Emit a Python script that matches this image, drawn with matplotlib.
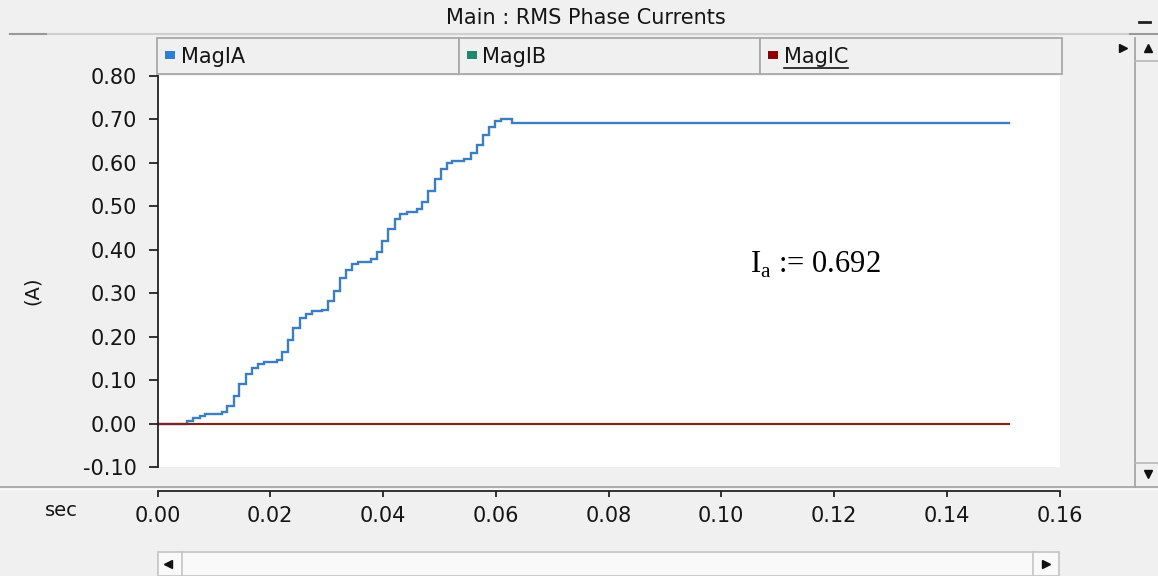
import matplotlib
matplotlib.use("Agg")
import matplotlib.pyplot as plt
from matplotlib.patches import Rectangle
import numpy as np

# ---- data -------------------------------------------------------------
title = "Main : RMS Phase Currents"
series_names = ["MagIA", "MagIB", "MagIC"]

# RMS phase A current (A), step-held samples
ia_t = [0.0, 0.0052, 0.0063, 0.0075, 0.0084, 0.0114, 0.0124, 0.0135, 0.0145,
        0.0157, 0.0167, 0.0179, 0.0189, 0.0212, 0.0221, 0.0231, 0.0241, 0.0252,
        0.0263, 0.0274, 0.0292, 0.0302, 0.0313, 0.0323, 0.0334, 0.0345, 0.0355,
        0.0378, 0.0389, 0.0399, 0.0409, 0.0421, 0.0431, 0.0442, 0.0460, 0.0470,
        0.0480, 0.0492, 0.0502, 0.0513, 0.0523, 0.0544, 0.0556, 0.0566, 0.0577,
        0.0588, 0.0598, 0.0609, 0.0628, 0.1511]
ia_v = [0.000, 0.006, 0.012, 0.017, 0.022, 0.027, 0.040, 0.063, 0.090,
        0.114, 0.127, 0.137, 0.141, 0.147, 0.164, 0.193, 0.221, 0.243,
        0.253, 0.258, 0.262, 0.281, 0.304, 0.335, 0.354, 0.368, 0.372,
        0.378, 0.395, 0.420, 0.447, 0.470, 0.483, 0.488, 0.493, 0.511,
        0.535, 0.562, 0.585, 0.599, 0.605, 0.608, 0.622, 0.641, 0.665,
        0.682, 0.697, 0.701, 0.692, 0.692]
# phases B and C stay at zero
ib_t = [0.0, 0.1511]
ib_v = [0.0, 0.0]
ic_t = [0.0, 0.1511]
ic_v = [0.0, 0.0]

ia_final = 0.692

y_ticks = [-0.10, 0.00, 0.10, 0.20, 0.30, 0.40, 0.50, 0.60, 0.70, 0.80]
x_ticks = [0.00, 0.02, 0.04, 0.06, 0.08, 0.10, 0.12, 0.14, 0.16]

# ---- styling ----------------------------------------------------------
W, H = 1158, 576
BG = "#f0f0f0"
TXT = "#151515"
line_colors = ["#3b7fc2", "#1f8a70", "#8e1c1c"]
marker_colors = ["#2b80d6", "#1f8a70", "#8b0000"]
FS = 15

plt.rcParams["font.family"] = ["DejaVu Sans"]

fig = plt.figure(figsize=(W / 100, H / 100), dpi=100, facecolor=BG)


def fx(x):
    return x / W


def fy(y):
    return 1 - y / H


# window chrome drawn in pixel coordinates
bg = fig.add_axes([0, 0, 1, 1], zorder=0)
bg.set_xlim(0, W)
bg.set_ylim(H, 0)
bg.axis("off")

bg.text(586, 18, title, ha="center", va="center", fontsize=FS, color=TXT)
bg.plot([10, 1130], [34, 34], color="#cfcfcf", lw=1.5)
bg.plot([10, 46], [34, 34], color="#9a9a9a", lw=1.5)
bg.plot([1130, W], [34, 34], color="#9a9a9a", lw=1.5)
bg.plot([1139, 1150], [22, 22], color="#202020", lw=2)

# series header boxes
box_x0 = 157
box_w = 301.5
label_texts = []
for i, (name, mc) in enumerate(zip(series_names, marker_colors)):
    x0 = box_x0 + i * box_w
    bg.add_patch(Rectangle((x0, 38), box_w, 36, facecolor=BG,
                           edgecolor="#a9a9a9", lw=1.3))
    bg.add_patch(Rectangle((x0 + 8, 50.5), 10, 8, facecolor=mc, edgecolor="none"))
    t = bg.text(x0 + 24, 57, name, ha="left", va="center", fontsize=FS, color=TXT)
    label_texts.append(t)

# vertical scrollbar on the right
bg.plot([1135, 1135], [38, 487], color="#a6a6a6", lw=1.3)
bg.plot([1135, W], [61, 61], color="#b8b8b8", lw=1.2)
bg.plot([1135, W], [463, 463], color="#b8b8b8", lw=1.2)
bg.plot([1148], [48], marker="^", color="#111111", ms=6)
bg.plot([1148], [474], marker="v", color="#111111", ms=6)
bg.plot([1123], [48], marker=">", color="#111111", ms=6)

# separator between plot panel and time axis
bg.plot([0, W], [487, 487], color="#a6a6a6", lw=1.3)
bg.plot([0, W], [488.5, 488.5], color="#fafafa", lw=1.0)

bg.text(61, 510, "sec", ha="center", va="center", fontsize=FS - 1, color=TXT)
bg.text(32, 291, "(A)", ha="center", va="center", fontsize=FS - 1,
        color=TXT, rotation=90)

# horizontal scrollbar at the bottom
bg.add_patch(Rectangle((158, 552), 901, 24, facecolor="#f9f9f9",
                       edgecolor="#c4c4c4", lw=1.2))
bg.plot([182, 182], [552, 576], color="#c4c4c4", lw=1.2)
bg.plot([1033, 1033], [552, 576], color="#c4c4c4", lw=1.2)
bg.plot([168], [564], marker="<", color="#111111", ms=6)
bg.plot([1046], [564], marker=">", color="#111111", ms=6)

# ---- plot area ----------------------------------------------------------
left_px, right_px = 157.5, 1059.5
top_px, bot_px = 76, 467
ax = fig.add_axes([fx(left_px), fy(bot_px), (right_px - left_px) / W,
                   (bot_px - top_px) / H], zorder=2)
ax.set_facecolor("white")
for s in ("top", "right", "bottom"):
    ax.spines[s].set_visible(False)
ax.spines["left"].set_color("#222222")
ax.spines["left"].set_linewidth(1.3)
ax.set_xlim(0, 0.16)
ax.set_ylim(-0.10, 0.80)
ax.set_xticks([])
ax.set_yticks(y_ticks)
ax.set_yticklabels([f"{v:.2f}" for v in y_ticks])
ax.tick_params(axis="y", direction="out", length=6.5, width=1.3,
               color="#222222", pad=8, labelsize=FS, labelcolor=TXT)

ax.plot(ia_t, ia_v, drawstyle="steps-post", color=line_colors[0], lw=1.7,
        solid_joinstyle="miter")
ax.plot(ib_t, ib_v, color=line_colors[1], lw=1.5)
ax.plot(ic_t, ic_v, color=line_colors[2], lw=1.5)

ax.text(0.1051, 0.346, r"I$_\mathregular{a}$ := " + f"{ia_final:.3f}",
        fontsize=22, family="Liberation Serif", color="black",
        ha="left", va="baseline")

# ---- time axis ------------------------------------------------------------
axx = fig.add_axes([fx(left_px), fy(491), (right_px - left_px) / W, 0.0001],
                   zorder=2)
axx.patch.set_visible(False)
for s in ("top", "right", "left"):
    axx.spines[s].set_visible(False)
axx.spines["bottom"].set_color("#222222")
axx.spines["bottom"].set_linewidth(1.3)
axx.set_xlim(0, 0.16)
axx.set_yticks([])
axx.set_xticks(x_ticks)
axx.set_xticklabels([f"{v:.2f}" for v in x_ticks])
axx.tick_params(axis="x", direction="out", length=4.5, width=1.3,
                color="#222222", pad=6, labelsize=FS, labelcolor=TXT)

# underline the last series header
fig.canvas.draw()
ext = label_texts[2].get_window_extent()
x_a = ext.x0
x_b = ext.x1
y_u = H - ext.y0 + 1
bg.plot([x_a, x_b], [y_u, y_u], color=TXT, lw=1.2)

fig.savefig("out.png", dpi=100, facecolor=BG)
